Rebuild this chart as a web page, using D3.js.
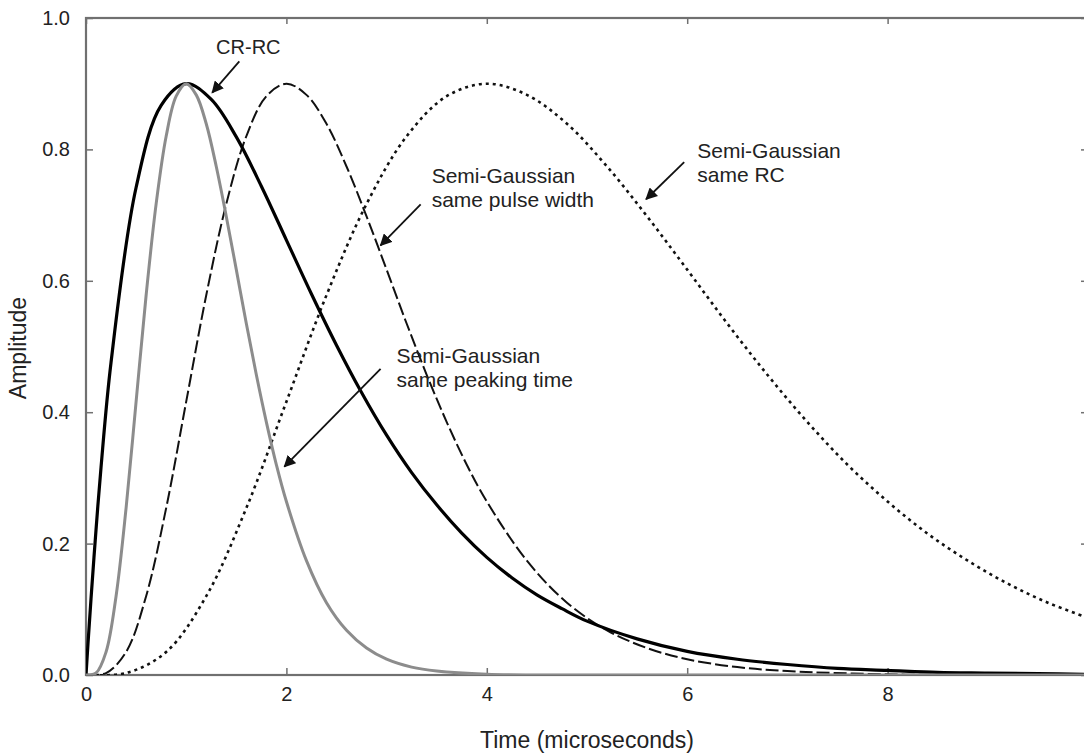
<!DOCTYPE html>
<html>
<head>
<meta charset="utf-8">
<script src="https://cdn.jsdelivr.net/npm/d3@7"></script>
<style>
  html, body { margin: 0; padding: 0; background: #fff; }
  svg { display: block; }
  text { font-family: "Liberation Sans", Arial, Helvetica, sans-serif; fill: #222; }
</style>
</head>
<body>
<svg id="chart" width="1084" height="756"></svg>
<script>
// ---- Data ----
const xTicks = [0, 2, 4, 6, 8, 10];
const yTicks = [0, 0.2, 0.4, 0.6, 0.8, 1.0];
const yTickLabels = ["0.0", "0.2", "0.4", "0.6", "0.8", "1.0"];

// CR-RC
const crrcT = [0,0.02,0.05,0.1,0.15,0.25,0.5,0.75,1,1.25,1.5,1.75,2,2.25,2.5,2.75,3,3.25,3.5,3.75,4,4.25,4.5,4.75,5,5.5,6,6.5,7,7.5,8,8.5,9,9.5,10];
const crrcV = [0,0.048,0.116,0.221,0.316,0.476,0.742,0.867,0.900,0.876,0.819,0.744,0.662,0.580,0.502,0.430,0.365,0.308,0.259,0.216,0.179,0.148,0.122,0.101,0.082,0.055,0.036,0.024,0.016,0.010,0.007,0.004,0.003,0.002,0.001];

// Semi-Gaussian, same peaking time
const peakT = [0,0.1,0.2,0.3,0.4,0.5,0.6,0.7,0.8,0.9,1,1.1,1.2,1.3,1.4,1.5,1.6,1.7,1.8,1.9,2,2.2,2.4,2.6,2.8,3,3.25,3.5,4,4.5,5,6,7,8,9,10];
const peakV = [0,0.003,0.035,0.120,0.254,0.416,0.578,0.717,0.820,0.881,0.900,0.883,0.839,0.774,0.698,0.617,0.535,0.457,0.385,0.320,0.264,0.174,0.110,0.068,0.041,0.024,0.012,0.006,0.001,0,0,0,0,0,0,0];

// Semi-Gaussian, same pulse width
const widthT = [0,0.2,0.4,0.6,0.8,1.0,1.2,1.4,1.6,1.8,2.0,2.2,2.4,2.6,2.8,3.0,3.2,3.4,3.6,3.8,4.0,4.4,4.8,5.2,5.6,6.0,6.5,7,8,9,10];
const widthV = [0,0.003,0.035,0.120,0.254,0.416,0.578,0.717,0.820,0.881,0.900,0.883,0.839,0.774,0.698,0.617,0.535,0.457,0.385,0.320,0.264,0.174,0.110,0.068,0.041,0.024,0.012,0.006,0.001,0,0];

// Semi-Gaussian, same RC
const rcT = [0,0.4,0.8,1.2,1.6,2.0,2.4,2.8,3.2,3.6,4.0,4.4,4.8,5.2,5.6,6.0,6.4,6.8,7.2,7.6,8.0,8.4,8.8,9.2,9.6,10];
const rcV = [0,0.003,0.035,0.120,0.254,0.416,0.578,0.717,0.820,0.881,0.900,0.883,0.839,0.774,0.698,0.617,0.535,0.457,0.385,0.320,0.264,0.215,0.174,0.139,0.110,0.087];

// Annotations: text lines, anchor in data units, arrow from/to in data units
const annoLabels = [
  ["CR-RC"],
  ["Semi-Gaussian", "same pulse width"],
  ["Semi-Gaussian", "same RC"],
  ["Semi-Gaussian", "same peaking time"]
];
const annoText = [[1.62, 0.945], [3.45, 0.7485], [6.1, 0.787], [3.1, 0.4756]];
const annoAlign = ["middle", "start", "start", "start"];
const annoSize = [20, 21, 21, 21];
const annoFrom = [[1.53, 0.934], [3.34, 0.7165], [5.97, 0.7805], [2.94, 0.466]];
const annoTo = [[1.26, 0.8865], [2.94, 0.6540], [5.59, 0.7241], [1.98, 0.3171]];

// ---- Drawing ----
const svg = d3.select("#chart");
const margin = { left: 86, top: 18, right: 1088, bottom: 675 };
const x = d3.scaleLinear().domain([0, 10]).range([margin.left, margin.right]);
const y = d3.scaleLinear().domain([0, 1]).range([margin.bottom, margin.top]);

svg.append("defs").append("clipPath").attr("id", "plotclip")
  .append("rect").attr("x", margin.left).attr("y", margin.top - 2)
  .attr("width", margin.right - margin.left).attr("height", margin.bottom - margin.top + 2);

const axisColor = "#707070";

// x axis (inward ticks)
const gx = svg.append("g").attr("transform", `translate(0,${margin.bottom})`)
  .call(d3.axisBottom(x).tickValues(xTicks.slice(0, 5)).tickSize(-7).tickPadding(12).tickFormat(d3.format("d")));
gx.select(".domain").remove();
gx.selectAll(".tick line").attr("stroke", axisColor).attr("stroke-width", 1.5);
gx.selectAll(".tick text").attr("font-size", 20).attr("fill", "#222").style("font-family", "Liberation Sans, Arial, sans-serif");

// top ticks
const gxt = svg.append("g").attr("transform", `translate(0,${margin.top})`)
  .call(d3.axisTop(x).tickValues(xTicks).tickSize(-6).tickFormat(""));
gxt.select(".domain").remove();
gxt.selectAll(".tick line").attr("stroke", axisColor).attr("stroke-width", 1.5);

// y axis
const gy = svg.append("g").attr("transform", `translate(${margin.left},0)`)
  .call(d3.axisLeft(y).tickValues(yTicks).tickSize(-7).tickPadding(16).tickFormat((d, i) => yTickLabels[i]));
gy.select(".domain").remove();
gy.selectAll(".tick line").attr("stroke", axisColor).attr("stroke-width", 1.5);
gy.selectAll(".tick text").attr("font-size", 20).attr("fill", "#222").style("font-family", "Liberation Sans, Arial, sans-serif");

// right ticks
const gyr = svg.append("g").attr("transform", `translate(${margin.right},0)`)
  .call(d3.axisRight(y).tickValues(yTicks).tickSize(-7).tickFormat(""));
gyr.select(".domain").remove();
gyr.selectAll(".tick line").attr("stroke", axisColor).attr("stroke-width", 1.5);

// frame
svg.append("rect")
  .attr("x", margin.left).attr("y", margin.top)
  .attr("width", margin.right - margin.left).attr("height", margin.bottom - margin.top)
  .attr("fill", "none").attr("stroke", axisColor).attr("stroke-width", 2.2);

// curves
const line = d3.line().x(d => x(d[0])).y(d => y(d[1])).curve(d3.curveCatmullRom.alpha(0.5));
const zip = (t, v) => t.map((d, i) => [d, v[i]]);
const plot = svg.append("g").attr("clip-path", "url(#plotclip)");

plot.append("path").datum(zip(rcT, rcV)).attr("d", line)
  .attr("fill", "none").attr("stroke", "#111").attr("stroke-width", 2.6)
  .attr("stroke-dasharray", "3,4");

plot.append("path").datum(zip(widthT, widthV)).attr("d", line)
  .attr("fill", "none").attr("stroke", "#111").attr("stroke-width", 2)
  .attr("stroke-dasharray", "13,4");

plot.append("path").datum(zip(crrcT, crrcV)).attr("d", line)
  .attr("fill", "none").attr("stroke", "#000").attr("stroke-width", 3.2);

plot.append("path").datum(zip(peakT, peakV)).attr("d", line)
  .attr("fill", "none").attr("stroke", "#8c8c8c").attr("stroke-width", 3);

// arrow marker
svg.select("defs").append("marker")
  .attr("id", "arrow").attr("viewBox", "0 0 10 10")
  .attr("refX", 9).attr("refY", 5)
  .attr("markerWidth", 12).attr("markerHeight", 12)
  .attr("markerUnits", "userSpaceOnUse")
  .attr("orient", "auto")
  .append("path").attr("d", "M0,0 L10,5 L0,10 z").attr("fill", "#111");

// annotations
annoLabels.forEach((lines, i) => {
  const t = svg.append("text")
    .attr("x", x(annoText[i][0])).attr("y", y(annoText[i][1]))
    .attr("text-anchor", annoAlign[i]).attr("font-size", annoSize[i]);
  lines.forEach((s, j) => {
    t.append("tspan").attr("x", x(annoText[i][0])).attr("dy", j === 0 ? 0 : 24).text(s);
  });
  svg.append("line")
    .attr("x1", x(annoFrom[i][0])).attr("y1", y(annoFrom[i][1]))
    .attr("x2", x(annoTo[i][0])).attr("y2", y(annoTo[i][1]))
    .attr("stroke", "#111").attr("stroke-width", 1.8)
    .attr("marker-end", "url(#arrow)");
});

// axis titles
svg.append("text")
  .attr("x", (margin.left + margin.right) / 2).attr("y", 748)
  .attr("text-anchor", "middle").attr("font-size", 23)
  .text("Time (microseconds)");

svg.append("text")
  .attr("transform", `translate(26,${348}) rotate(-90)`)
  .attr("text-anchor", "middle").attr("font-size", 23)
  .text("Amplitude");
</script>
</body>
</html>
